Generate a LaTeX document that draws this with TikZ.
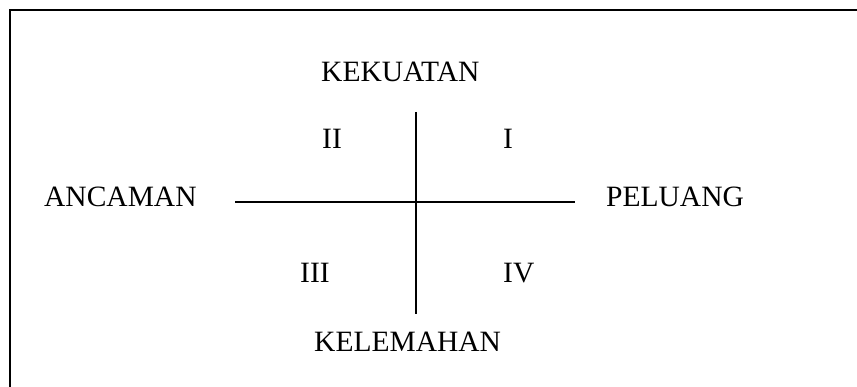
\documentclass[tikz,border=0pt]{standalone}
\usepackage{fontspec}
\setmainfont{Liberation Serif}
\begin{document}
\begin{tikzpicture}[x=1pt,y=-1pt]
\tikzset{lbl/.style={anchor=base west, inner sep=0pt, font=\fontsize{29.5}{34}\selectfont}}
\clip (0,0) rectangle (857,387);
\fill[white] (0,0) rectangle (857,387);
\draw[line width=1.6pt] (9.8,10) rectangle (870,400);
\node[lbl] (kek) at (321,82){KEKUATAN};
\node[lbl] (ii) at (322,149){II};
\node[lbl] (i) at (503,149){I};
\node[lbl] (anc) at (44,207){ANCAMAN};
\node[lbl] (pel) at (606,207){PELUANG};
\node[lbl] (iii) at (300,283){III};
\node[lbl] (iv) at (503,283){IV};
\node[lbl] (kel) at (314,352){KELEMAHAN};
\coordinate (hl) at (235,202);
\coordinate (hr) at (575,202);
\coordinate (vt) at (416,112);
\coordinate (vb) at (416,314);
\draw[line width=1.3pt](hl) -- (hr);
\draw[line width=1.3pt](vt) -- (vb);
\end{tikzpicture}
\end{document}
